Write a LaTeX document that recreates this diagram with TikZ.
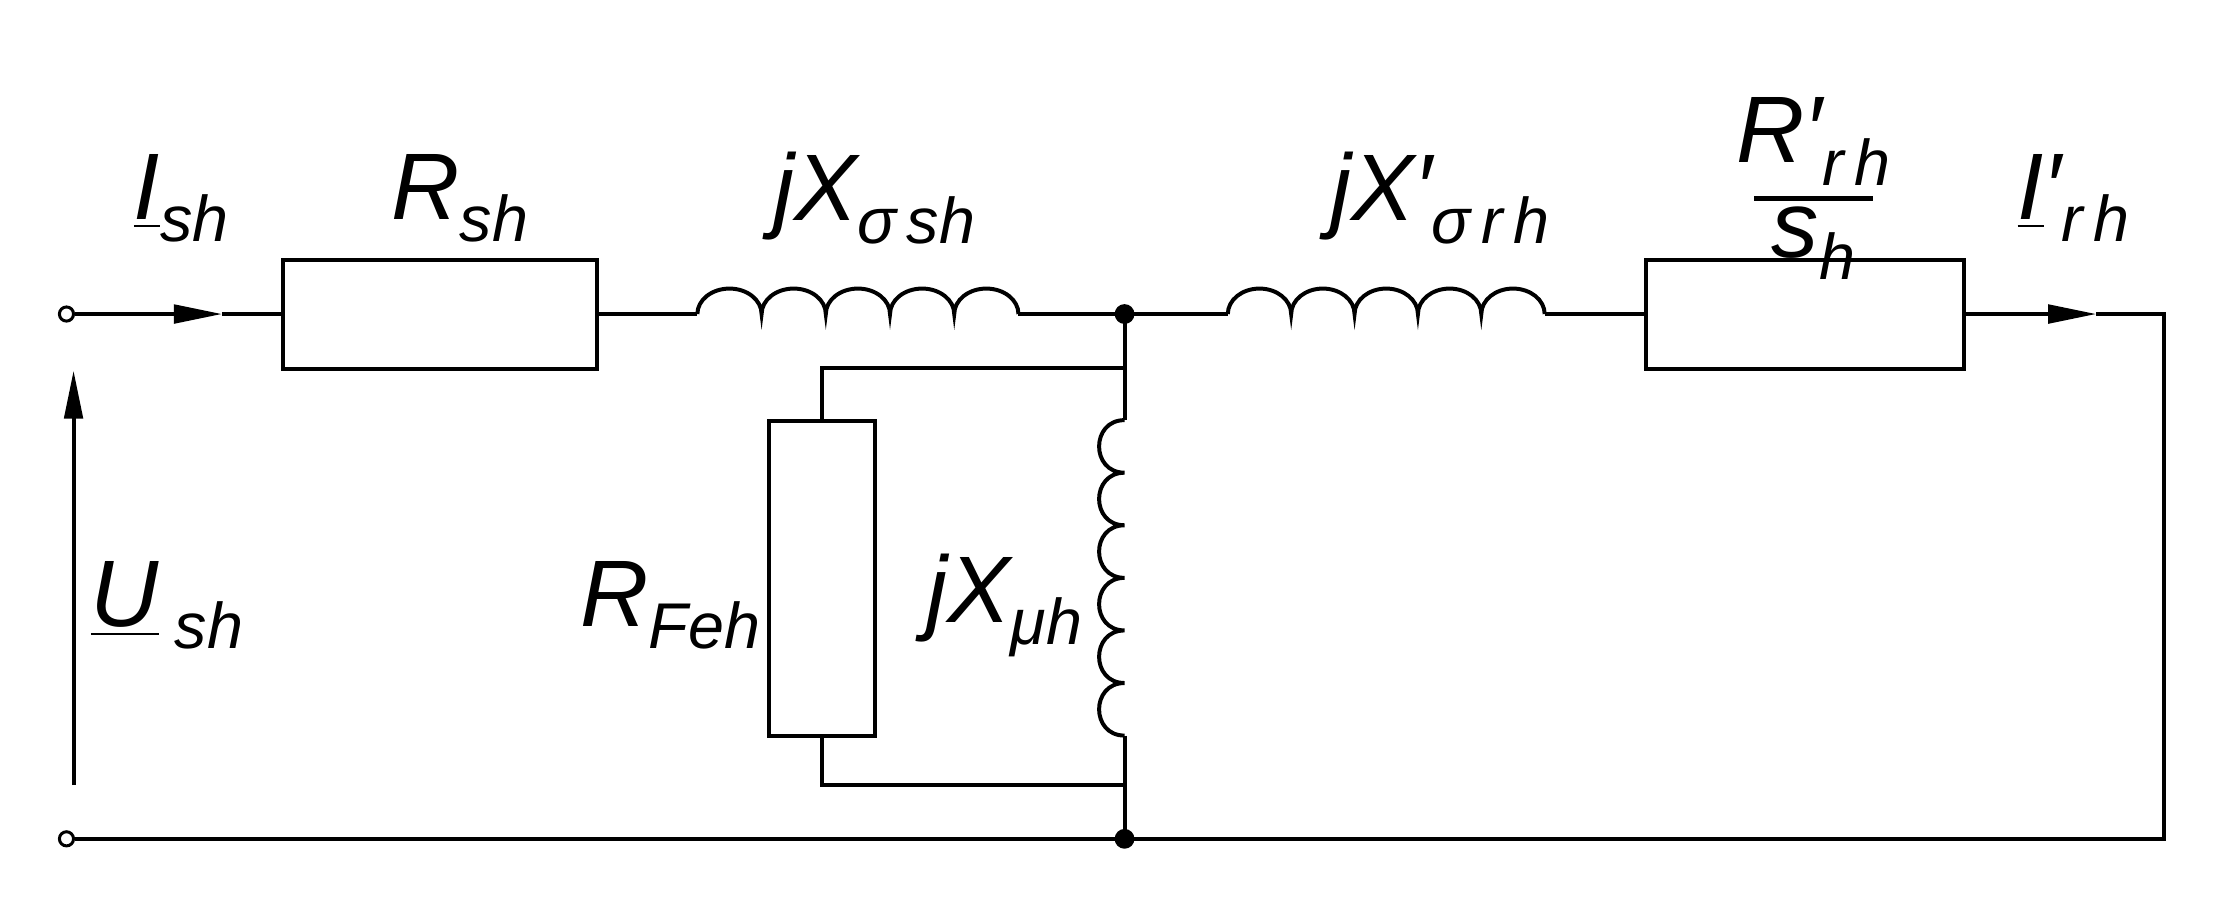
\documentclass[tikz,border=0pt]{standalone}
\usepackage{fontspec}
\setmainfont{Liberation Sans}
\usetikzlibrary{arrows.meta}
\newcommand{\sbs}[1]{\raisebox{-0.45ex}{\fontsize{13}{15}\selectfont #1}}
\begin{document}
\begin{tikzpicture}[x=0.01cm,y=-0.01cm,line width=0.8pt,
  res/.style={draw,rectangle,inner sep=0pt,line width=0.8pt},
  lbl/.style={font=\fontsize{19}{22}\selectfont\itshape,inner sep=0pt},
  arr/.style={-{Triangle[length=0.34cm,width=0.13cm]}},
  dot/.style={circle,fill,inner sep=0pt,minimum size=0.14cm},
  term/.style={circle,draw,fill=white,inner sep=0pt,minimum size=0.1cm,line width=0.6pt}]
\useasboundingbox (0,0) rectangle (1568,639);
% nodes
\node[term] (t1) at (47,222) {};
\node[term] (t2) at (47,593) {};
\node[res,minimum width=2.22cm,minimum height=0.77cm] (Rsh) at (311,222) {};
\node[res,minimum width=2.25cm,minimum height=0.77cm] (Rrh) at (1276,222) {};
\node[res,minimum width=0.75cm,minimum height=2.23cm] (RFe) at (581,409) {};
\node[dot] (d1) at (795,222) {};
\node[dot] (d2) at (795,593) {};
\coordinate (a1) at (157,222);
\coordinate (a2) at (1482,222);
\coordinate (c1) at (1530,222);
\coordinate (c2) at (1530,593);
\coordinate (L1a) at (493,222); \coordinate (L1b) at (720,222);
\coordinate (L2a) at (868,222); \coordinate (L2b) at (1092,222);
\coordinate (L3a) at (795,297); \coordinate (L3b) at (795,520);
\coordinate (s1) at (795,260); \coordinate (s2) at (795,555);
\coordinate (u1) at (52,555); \coordinate (u2) at (52,262);
% wires
\draw[arr] (t1) -- (a1);
\draw (a1) -- (Rsh.west);
\draw (Rsh.east) -- (L1a);
\draw (L1a) \foreach \i in {0,...,4} { arc[start angle=180,end angle=0,x radius=22.7,y radius=-18] };
\draw (L1b) -- (d1.center) -- (L2a);
\draw (L2a) \foreach \i in {0,...,4} { arc[start angle=180,end angle=0,x radius=22.4,y radius=-18] };
\draw (L2b) -- (Rrh.west);
\draw[arr] (Rrh.east) -- (a2);
\draw (a2) -- (c1) -- (c2) -- (d2.center) -- (t2);
\draw (d1.center) -- (L3a);
\draw \foreach \i in {0,...,5} { (795,297+37.17*\i) .. controls (771,297+37.17*\i) and (771,334.17+37.17*\i) .. (795,334.17+37.17*\i) };
\draw (L3b) -- (d2.center);
\draw (s1) -| (RFe.north);
\draw (RFe.south) |- (s2);
\draw[arr] (u1) -- (u2);
% labels
\node[lbl] (lI) at (128,140) {\underline{I}\sbs{sh}};
\node[lbl] (lR) at (325,140) {R\sbs{sh}};
\node[lbl] (lX1) at (618,140) {jX\sbs{σ\,sh}};
\node[lbl] (lX2) at (1018,140) {jX′\sbs{σ\,r\,h}};
\node[lbl] (lRn) at (1282,100) {R′\sbs{r\,h}};
\node[lbl] (lRd) at (1282,172) {s\sbs{h}};
\draw[line width=1pt] (1240,140) -- (1324,140);
\node[lbl] (lI2) at (1466,140) {\underline{I}′\sbs{r\,h}};
\node[lbl] (lU) at (118,428) {\underline{U}\,\sbs{sh}};
\node[lbl] (lRF) at (474,428) {R\sbs{Feh}};
\node[lbl] (lXm) at (710,428) {jX\sbs{μh}};
\end{tikzpicture}
\end{document}
